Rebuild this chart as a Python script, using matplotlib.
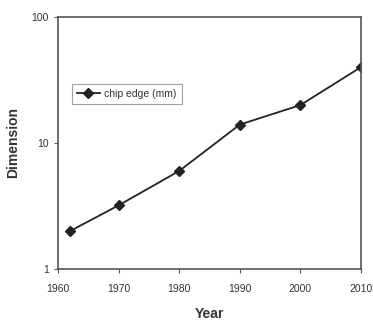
import matplotlib
matplotlib.use("Agg")
import matplotlib.pyplot as plt

plt.rcParams['font.family'] = ['Liberation Sans', 'DejaVu Sans']

# chip edge over the years
years = [1962, 1970, 1980, 1990, 2000, 2010]
chip_edge = [2.0, 3.2, 6.0, 14.0, 20.0, 40.0]

fig = plt.figure(figsize=(3.73, 3.2), dpi=100)
ax = fig.add_axes([58 / 373, 1 - 269 / 320, 303 / 373, 252 / 320])

ax.plot(years, chip_edge, color='#222222', lw=1.3, marker='D', ms=5,
        label='chip edge (mm)')
ax.set_yscale('log')
ax.set_xlim(1960, 2010)
ax.set_ylim(1, 100)
ax.set_xticks([1960, 1970, 1980, 1990, 2000, 2010])
ax.set_yticks([1, 10, 100])
ax.set_yticklabels(['1', '10', '100'])
ax.minorticks_off()
ax.tick_params(axis='both', labelsize=7.5, color='#555555', labelcolor='#333333',
               length=3, width=0.8)
ax.tick_params(axis='x', pad=8)
for s in ax.spines.values():
    s.set_color('#555555')
    s.set_linewidth(1.2)

ax.set_xlabel('Year', fontsize=10, fontweight='bold', color='#333333')
ax.xaxis.set_label_coords(0.5, -0.15)
ax.set_ylabel('Dimension', fontsize=10, fontweight='bold', color='#333333')
ax.yaxis.set_label_coords(-0.125, 0.5)

leg = ax.legend(loc='upper left', bbox_to_anchor=(0.045, 0.735), fontsize=7.5,
                frameon=True, fancybox=False, borderpad=0.5, handlelength=2.2,
                handletextpad=0.4, borderaxespad=0)
leg.get_frame().set_edgecolor('#888888')
leg.get_frame().set_linewidth(0.8)
for t in leg.get_texts():
    t.set_color('#333333')

fig.savefig('out.png', dpi=100)
